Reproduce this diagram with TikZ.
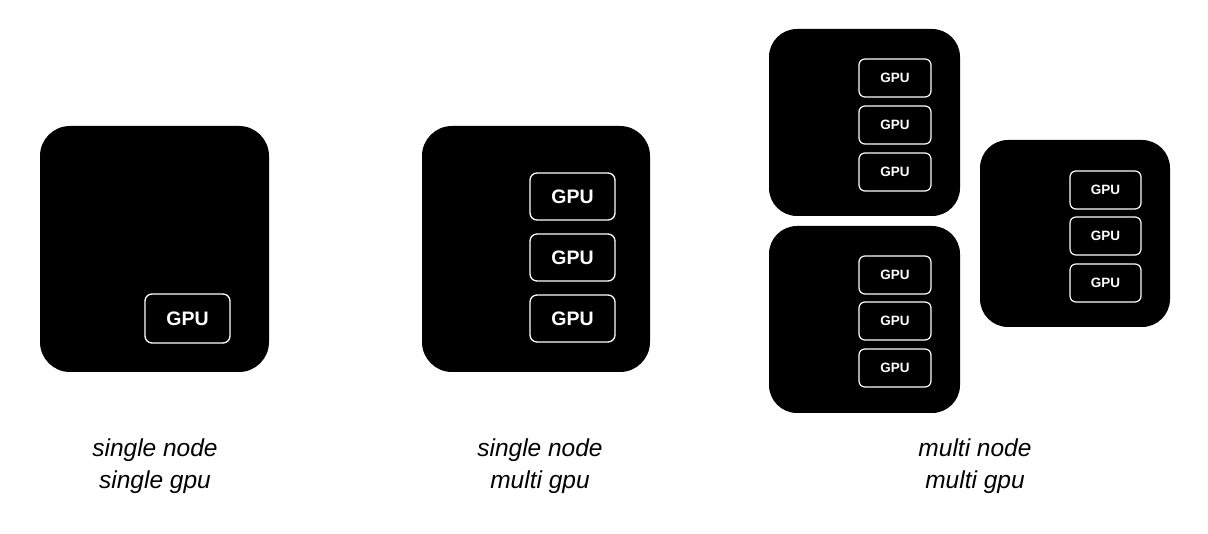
\documentclass[tikz,border=0pt]{standalone}
\usepackage{fontspec}
\setmainfont{Liberation Sans}
\begin{document}
\begin{tikzpicture}[x=1pt,y=-1pt,
  machine/.style={fill=black,draw=none,rounded corners=30pt},
  gpubig/.style={draw=white,line width=1.3pt,rounded corners=7pt},
  gpusmall/.style={draw=white,line width=1.2pt,rounded corners=6pt},
  bigtext/.style={text=white,font=\fontsize{19.5}{22}\selectfont\bfseries},
  smalltext/.style={text=white,font=\fontsize{13.5}{16}\selectfont\bfseries},
  caption/.style={align=center,font=\fontsize{24.5}{32}\selectfont\itshape}]
\useasboundingbox (0,0) rectangle (1208,534);
% single node single gpu
\path[machine] (40,126) rectangle (269,372);
\draw[gpubig] (145,294) rectangle (230,343);
\node[bigtext] (g1) at (187.5,318.5) {GPU};
% single node multi gpu
\path[machine] (422,126) rectangle (650,372);
\foreach \y/\n in {173/a,234/b,295/c}{
  \draw[gpubig] (530,\y) rectangle (615,\y+47);
  \node[bigtext] (g2\n) at (572.5,\y+23.5) {GPU};
}
% multi node multi gpu
\path[machine,rounded corners=28pt] (769,29) rectangle (960,216);
\path[machine,rounded corners=28pt] (769,226) rectangle (960,413);
\path[machine,rounded corners=28pt] (980,140) rectangle (1170,327);
\foreach \y/\n in {59/a,106/b,153/c}{
  \draw[gpusmall] (859,\y) rectangle (931,\y+38);
  \node[smalltext] (g3\n) at (895,\y+19) {GPU};
}
\foreach \y/\n in {256/a,302/b,349/c}{
  \draw[gpusmall] (859,\y) rectangle (931,\y+38);
  \node[smalltext] (g4\n) at (895,\y+19) {GPU};
}
\foreach \y/\n in {171/a,217/b,264/c}{
  \draw[gpusmall] (1070,\y) rectangle (1141,\y+38);
  \node[smalltext] (g5\n) at (1105.5,\y+19) {GPU};
}
% captions
\node[caption] (c1) at (155,466) {single node\\single gpu};
\node[caption] (c2) at (540,466) {single node\\multi gpu};
\node[caption] (c3) at (975,466) {multi node\\multi gpu};
\end{tikzpicture}
\end{document}
